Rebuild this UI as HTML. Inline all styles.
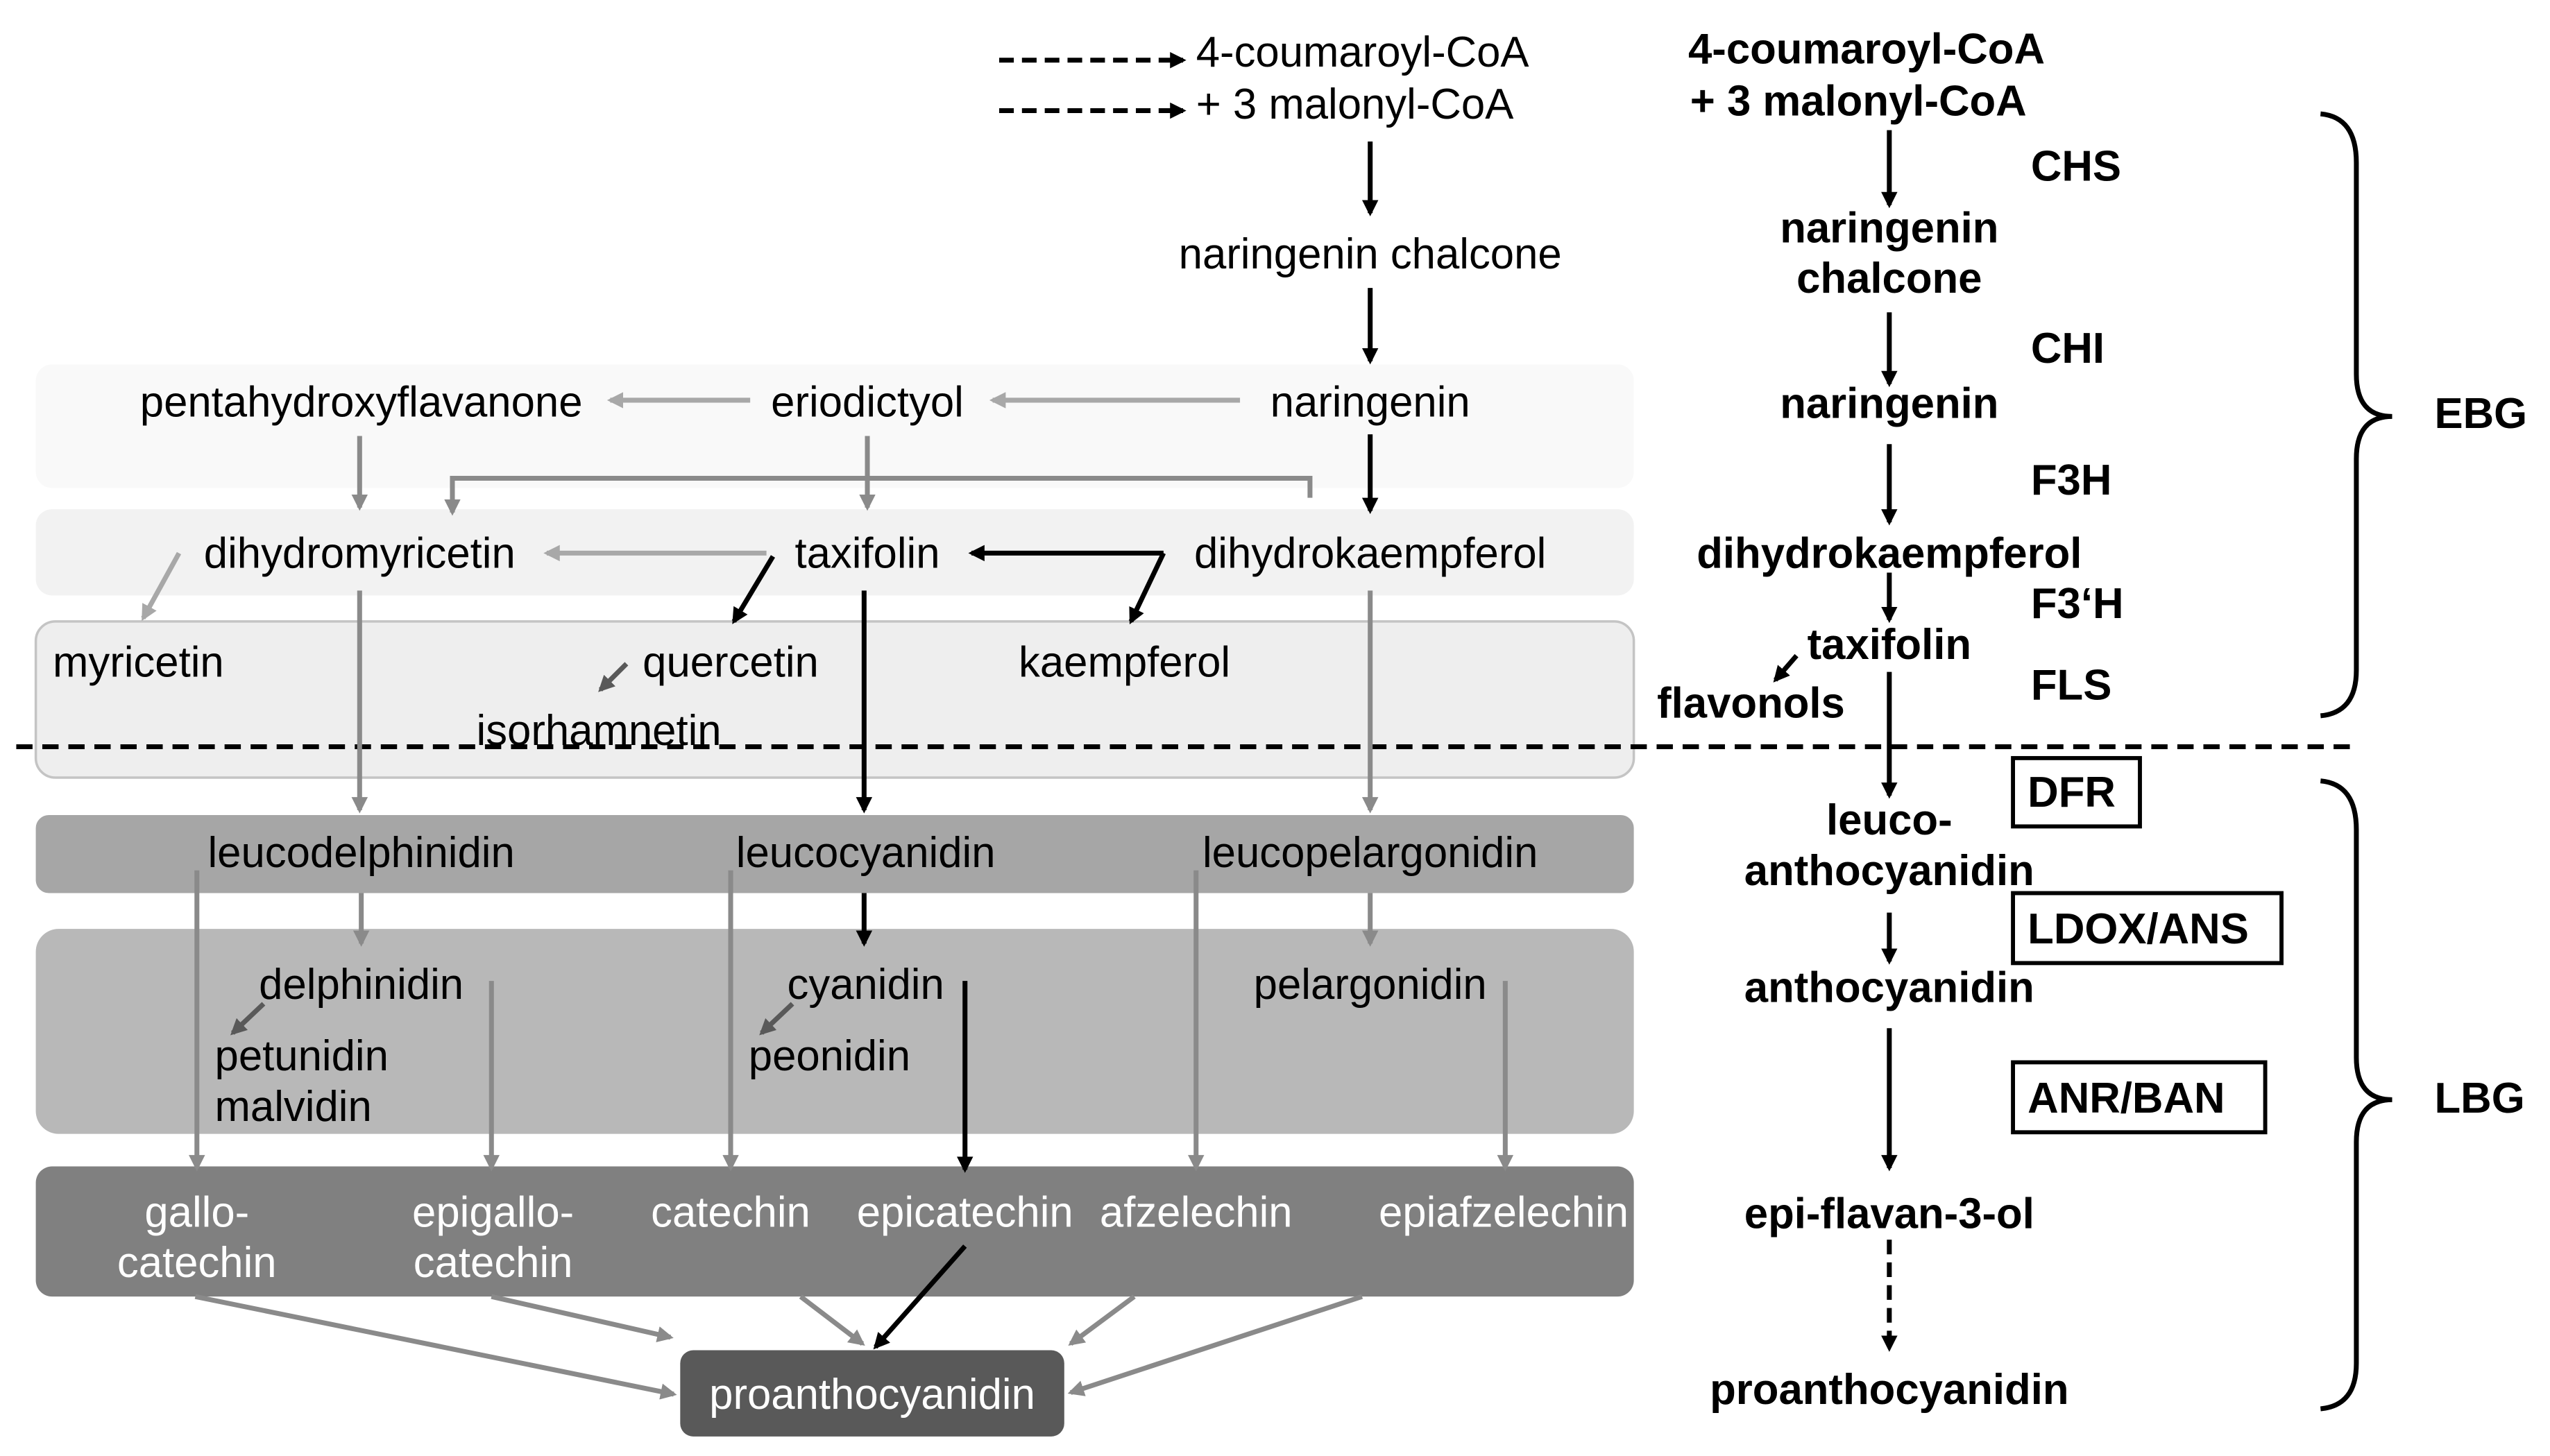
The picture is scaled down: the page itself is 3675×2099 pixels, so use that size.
<!DOCTYPE html>
<html><head><meta charset="utf-8"><style>html,body{margin:0;padding:0;background:#fff}svg{display:block}</style></head><body>
<svg width="3675" height="2099" viewBox="0 0 1567 895" preserveAspectRatio="none" xmlns="http://www.w3.org/2000/svg" font-family="Liberation Sans, Arial, sans-serif" font-size="26.3">
<defs>
<marker id="ab" markerWidth="10" markerHeight="10" refX="8" refY="5" orient="auto" markerUnits="userSpaceOnUse"><path d="M0,0 L10,5 L0,10 z" fill="#000"/></marker>
<marker id="ag" markerWidth="10" markerHeight="10" refX="8" refY="5" orient="auto" markerUnits="userSpaceOnUse"><path d="M0,0 L10,5 L0,10 z" fill="#8a8a8a"/></marker>
<marker id="al" markerWidth="10" markerHeight="10" refX="8" refY="5" orient="auto" markerUnits="userSpaceOnUse"><path d="M0,0 L10,5 L0,10 z" fill="#a8a8a8"/></marker>
<marker id="ad" markerWidth="10" markerHeight="10" refX="8" refY="5" orient="auto" markerUnits="userSpaceOnUse"><path d="M0,0 L10,5 L0,10 z" fill="#595959"/></marker>
</defs>
<rect x="22" y="224" width="982" height="76" rx="10" fill="#f9f9f9"/>
<rect x="22" y="313" width="982" height="53" rx="10" fill="#f2f2f2"/>
<rect x="22" y="382" width="982" height="96" rx="12" fill="#eeeeee" stroke="#c4c4c4" stroke-width="1.5"/>
<rect x="22" y="501" width="982" height="48" rx="8" fill="#a6a6a6"/>
<rect x="22" y="571" width="982" height="126" rx="14" fill="#b8b8b8"/>
<rect x="22" y="717" width="982" height="80" rx="10" fill="#808080"/>
<rect x="418" y="830" width="236" height="53" rx="8" fill="#595959"/>
<line x1="10" y1="459" x2="1445" y2="459" stroke="#000" stroke-width="3" stroke-dasharray="10,6"/>
<line x1="614" y1="37" x2="727" y2="37" stroke="#000" stroke-width="3" stroke-dasharray="9,5" marker-end="url(#ab)"/>
<line x1="614" y1="68" x2="727" y2="68" stroke="#000" stroke-width="3" stroke-dasharray="9,5" marker-end="url(#ab)"/>
<text x="735" y="41">4-coumaroyl-CoA</text>
<text x="735" y="73">+ 3 malonyl-CoA</text>
<g stroke="#000" stroke-width="3" fill="none" marker-end="url(#ab)">
<line x1="842" y1="87" x2="842" y2="131"/>
<line x1="842" y1="177" x2="842" y2="222"/>
<line x1="842" y1="267" x2="842" y2="314"/>
<line x1="531" y1="363" x2="531" y2="498"/>
<line x1="531" y1="549" x2="531" y2="580"/>
<line x1="593" y1="603" x2="593" y2="719"/>
<line x1="593" y1="766" x2="538" y2="828"/>
<path d="M715,340 L597,340"/>
<path d="M715,340 L695,382"/>
<path d="M475,342 L451,382"/>
</g>
<g stroke="#a8a8a8" stroke-width="3" fill="none" marker-end="url(#al)">
<line x1="762" y1="246" x2="610" y2="246"/>
<line x1="461" y1="246" x2="375" y2="246"/>
<line x1="471" y1="340" x2="336" y2="340"/>
<line x1="110" y1="340" x2="88" y2="380"/>
</g>
<g stroke="#8a8a8a" stroke-width="3" fill="none" marker-end="url(#ag)">
<line x1="221" y1="268" x2="221" y2="312"/>
<line x1="533" y1="268" x2="533" y2="312"/>
<path d="M805,306 L805,294 L278,294 L278,315"/>
<line x1="221" y1="363" x2="221" y2="498"/>
<line x1="842" y1="363" x2="842" y2="498"/>
<line x1="222" y1="549" x2="222" y2="580"/>
<line x1="842" y1="549" x2="842" y2="580"/>
<line x1="121" y1="535" x2="121" y2="718"/>
<line x1="302" y1="603" x2="302" y2="718"/>
<line x1="449" y1="535" x2="449" y2="718"/>
<line x1="735" y1="535" x2="735" y2="718"/>
<line x1="925" y1="603" x2="925" y2="718"/>
<line x1="120" y1="797" x2="414" y2="857"/>
<line x1="302" y1="797" x2="412" y2="822"/>
<line x1="492" y1="797" x2="530" y2="826"/>
<line x1="697" y1="797" x2="658" y2="826"/>
<line x1="837" y1="797" x2="658" y2="856"/>
</g>
<g stroke="#595959" stroke-width="3" fill="none" marker-end="url(#ad)">
<line x1="385" y1="408" x2="369" y2="424"/>
<line x1="162" y1="617" x2="143" y2="635"/>
<line x1="487" y1="617" x2="468" y2="635"/>
</g>
<g fill="#000" text-anchor="middle">
<text x="842" y="165">naringenin chalcone</text>
<text x="222" y="256">pentahydroxyflavanone</text>
<text x="533" y="256">eriodictyol</text>
<text x="842" y="256">naringenin</text>
<text x="221" y="349">dihydromyricetin</text>
<text x="533" y="349">taxifolin</text>
<text x="842" y="349">dihydrokaempferol</text>
<text x="85" y="416">myricetin</text>
<text x="449" y="416">quercetin</text>
<text x="691" y="416">kaempferol</text>
<text x="368" y="458">isorhamnetin</text>
<text x="222" y="533">leucodelphinidin</text>
<text x="532" y="533">leucocyanidin</text>
<text x="842" y="533">leucopelargonidin</text>
<text x="222" y="614">delphinidin</text>
<text x="532" y="614">cyanidin</text>
<text x="842" y="614">pelargonidin</text>
</g>
<g fill="#000">
<text x="132" y="658">petunidin</text>
<text x="132" y="689">malvidin</text>
<text x="460" y="658">peonidin</text>
</g>
<g fill="#fff" text-anchor="middle">
<text x="121" y="754">gallo-</text>
<text x="121" y="785">catechin</text>
<text x="303" y="754">epigallo-</text>
<text x="303" y="785">catechin</text>
<text x="449" y="754">catechin</text>
<text x="593" y="754">epicatechin</text>
<text x="735" y="754">afzelechin</text>
<text x="924" y="754">epiafzelechin</text>
<text x="536" y="866">proanthocyanidin</text>
</g>
<g font-weight="bold" fill="#000" text-anchor="middle">
<text x="1147" y="39">4-coumaroyl-CoA</text>
<text x="1142" y="71">+ 3 malonyl-CoA</text>
<text x="1161" y="149">naringenin</text>
<text x="1161" y="180">chalcone</text>
<text x="1161" y="257">naringenin</text>
<text x="1161" y="349">dihydrokaempferol</text>
<text x="1161" y="405">taxifolin</text>
<text x="1076" y="441">flavonols</text>
<text x="1161" y="513">leuco-</text>
<text x="1161" y="544">anthocyanidin</text>
<text x="1161" y="616">anthocyanidin</text>
<text x="1161" y="755">epi-flavan-3-ol</text>
<text x="1161" y="863">proanthocyanidin</text>
</g>
<g font-weight="bold" fill="#000">
<text x="1248" y="111">CHS</text>
<text x="1248" y="223">CHI</text>
<text x="1248" y="304">F3H</text>
<text x="1248" y="380">F3‘H</text>
<text x="1248" y="430">FLS</text>
<text x="1246" y="496">DFR</text>
<text x="1246" y="580">LDOX/ANS</text>
<text x="1246" y="684">ANR/BAN</text>
<text x="1496" y="263">EBG</text>
<text x="1496" y="684">LBG</text>
</g>
<g fill="none" stroke="#000" stroke-width="2.5">
<rect x="1237" y="466" width="78" height="42"/>
<rect x="1237" y="549" width="165" height="43"/>
<rect x="1237" y="653" width="155" height="43"/>
</g>
<g stroke="#000" stroke-width="3" fill="none" marker-end="url(#ab)">
<line x1="1161" y1="80" x2="1161" y2="126"/>
<line x1="1161" y1="192" x2="1161" y2="236"/>
<line x1="1161" y1="273" x2="1161" y2="321"/>
<line x1="1161" y1="352" x2="1161" y2="381"/>
<line x1="1161" y1="413" x2="1161" y2="489"/>
<line x1="1104" y1="403" x2="1091" y2="418"/>
<line x1="1161" y1="561" x2="1161" y2="591"/>
<line x1="1161" y1="632" x2="1161" y2="718"/>
<line x1="1161" y1="762" x2="1161" y2="829" stroke-dasharray="9,5"/>
</g>
<g fill="none" stroke="#000" stroke-width="3">
<path d="M1426,70 Q1448,72 1448,100 L1448,230 Q1448,256 1470,256 Q1448,256 1448,282 L1448,412 Q1448,438 1426,440"/>
<path d="M1426,480 Q1448,482 1448,510 L1448,650 Q1448,676 1470,676 Q1448,676 1448,702 L1448,838 Q1448,864 1426,866"/>
</g>
</svg>
</body></html>
